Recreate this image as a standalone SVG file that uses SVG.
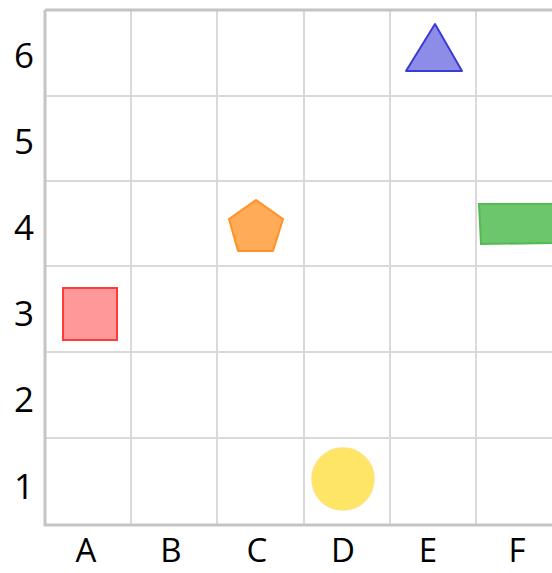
<svg xmlns="http://www.w3.org/2000/svg" width="552" height="573" viewBox="0 0 552 573">
<style>
.g{stroke:#d9d9d9;stroke-width:2;fill:none}
.ax{stroke:#c4c4c4;stroke-width:3;fill:none}
.t{font-family:"Open Sans","Noto Sans",sans-serif;font-size:35px;fill:#000;text-anchor:middle}
.b{font-size:33px}
</style>
<rect width="552" height="573" fill="#fff"/>
<g id="grid">
<path class="g" d="M131 10V525M217 10V525M304 10V525M390 10V525M476 10V525M45 96H552M45 181H552M45 266H552M45 352H552M45 438H552"/>
<path class="ax" d="M45 10H552M45 10V525H552"/>
</g>
<g id="labels">
<text class="t" x="24" y="68">6</text>
<text class="t" x="24" y="154">5</text>
<text class="t" x="24" y="240">4</text>
<text class="t" x="24" y="326">3</text>
<text class="t" x="24" y="412">2</text>
<text class="t" x="24" y="499">1</text>
<text class="t b" x="86" y="562">A</text>
<text class="t b" x="171" y="562">B</text>
<text class="t b" x="257" y="562">C</text>
<text class="t b" x="343" y="562">D</text>
<text class="t b" x="428" y="562">E</text>
<text class="t b" x="517" y="562">F</text>
</g>
<g id="triangle"><polygon points="435,24 406,71 462,71" fill="#8d8ce6" stroke="#3b3bd6" stroke-width="2" stroke-linejoin="round"/></g>
<g id="pentagon"><polygon points="256,200 283,219 273,251 238,251 229,219" fill="#ffab57" stroke="#ff9126" stroke-width="2" stroke-linejoin="round"/></g>
<g id="rectangle"><polygon points="479,204 553,204 553,243 481,244" fill="#6cc66c" stroke="#52bb52" stroke-width="2"/></g>
<g id="square"><rect x="63" y="288" width="54" height="52" fill="#ff9999" stroke="#ff3a3a" stroke-width="2"/></g>
<g id="circle"><circle cx="343" cy="479" r="31" fill="#ffe566" stroke="#ffe27a" stroke-width="1.5"/></g>
</svg>
